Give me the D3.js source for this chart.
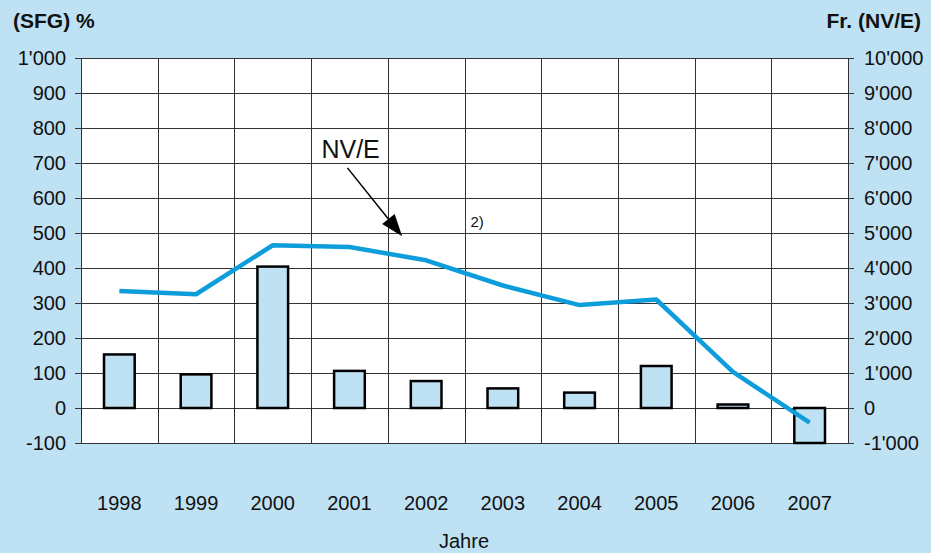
<!DOCTYPE html>
<html>
<head>
<meta charset="utf-8">
<script src="https://cdn.jsdelivr.net/npm/d3@7"></script>
<style>
  body { margin: 0; background: #bfe1f4; }
  svg { display: block; font-family: "Liberation Sans", Arial, sans-serif; }
</style>
</head>
<body>
<svg id="chart" width="931" height="553"></svg>
<script>
// values
var years = ["1998", "1999", "2000", "2001", "2002", "2003", "2004", "2005", "2006", "2007"];
var sfg = [153, 96, 404, 106, 77, 56, 44, 120, 10, -100];           // bars, left axis (%)
var nve = [3340, 3250, 4650, 4600, 4220, 3500, 2940, 3100, 1030, -420]; // line, right axis (Fr.)
var leftTicks = [-100, 0, 100, 200, 300, 400, 500, 600, 700, 800, 900, 1000];
var rightTicks = [-1000, 0, 1000, 2000, 3000, 4000, 5000, 6000, 7000, 8000, 9000, 10000];

var svg = d3.select("#chart");
var pLeft = 81, pRight = 848, pTop = 58, pBottom = 443;

var x = d3.scaleBand().domain(years).range([pLeft, pRight]).paddingInner(0.6).paddingOuter(0.3);
var xb = d3.scaleBand().domain(years).range([pLeft, pRight]);
var y = d3.scaleLinear().domain([-100, 1000]).range([pBottom, pTop]);
var y2 = d3.scaleLinear().domain([-1000, 10000]).range([pBottom, pTop]);

function fmt(v) {
  return d3.format(",")(v).replace(/,/g, "'").replace("\u2212", "-");
}
function cx(yr) {
  return xb(yr) + xb.bandwidth() / 2;
}

// plot background
svg.append("rect")
  .attr("x", pLeft).attr("y", pTop)
  .attr("width", pRight - pLeft).attr("height", pBottom - pTop)
  .attr("fill", "#fff");

// horizontal grid
svg.append("g").selectAll("line").data(leftTicks).join("line")
  .attr("x1", pLeft - 6).attr("x2", pRight + 6)
  .attr("y1", function(d) { return Math.round(y(d)) + 0.5; })
  .attr("y2", function(d) { return Math.round(y(d)) + 0.5; })
  .attr("stroke", "#333").attr("stroke-width", 1);

// vertical grid at category boundaries
svg.append("g").selectAll("line").data(years.slice(1)).join("line")
  .attr("x1", function(d) { return Math.round(xb(d)) + 0.5; })
  .attr("x2", function(d) { return Math.round(xb(d)) + 0.5; })
  .attr("y1", pTop).attr("y2", pBottom)
  .attr("stroke", "#333").attr("stroke-width", 1);

// axis lines
svg.append("line").attr("x1", pLeft + 0.5).attr("x2", pLeft + 0.5).attr("y1", pTop).attr("y2", pBottom)
  .attr("stroke", "#333");
svg.append("line").attr("x1", pRight + 0.5).attr("x2", pRight + 0.5).attr("y1", pTop).attr("y2", pBottom)
  .attr("stroke", "#333");

// small ticks hanging under the zero line
svg.append("g").selectAll("line").data(years).join("line")
  .attr("x1", function(d) { return Math.round(xb(d)) + 0.5; })
  .attr("x2", function(d) { return Math.round(xb(d)) + 0.5; })
  .attr("y1", y(0)).attr("y2", y(0) + 9)
  .attr("stroke", "#222");

// tick labels
svg.append("g").selectAll("text").data(leftTicks).join("text")
  .attr("x", 66).attr("y", function(d) { return y(d) + 7; })
  .attr("text-anchor", "end").attr("font-size", 20).attr("fill", "#111")
  .text(fmt);
svg.append("g").selectAll("text").data(rightTicks).join("text")
  .attr("x", 864).attr("y", function(d) { return y2(d) + 7; })
  .attr("font-size", 20).attr("fill", "#111")
  .text(fmt);

svg.append("g").selectAll("text").data(years).join("text")
  .attr("x", function(d) { return cx(d); })
  .attr("y", 510)
  .attr("text-anchor", "middle").attr("font-size", 20).attr("fill", "#111")
  .text(function(d) { return d; });

// bars
svg.append("g").selectAll("rect").data(sfg).join("rect")
  .attr("x", function(d, i) { return x(years[i]); })
  .attr("width", x.bandwidth())
  .attr("y", function(d) { return y(Math.max(0, d)); })
  .attr("height", function(d) { return Math.abs(y(d) - y(0)); })
  .attr("fill", "#bfe1f4").attr("stroke", "#000").attr("stroke-width", 2.5);

// NV/E line
var line = d3.line()
  .x(function(d, i) { return cx(years[i]); })
  .y(function(d) { return y2(d); });
svg.append("path").datum(nve)
  .attr("d", line)
  .attr("fill", "none").attr("stroke", "#0e9ddb").attr("stroke-width", 4.5)
  .attr("stroke-linejoin", "round");

// annotation arrow (positioned in data units of the left axis)
var ax1 = cx("2001") - 2, ay1 = y(686), ax2 = cx("2002") - 24, ay2 = y(491);
var ang = Math.atan2(ay2 - ay1, ax2 - ax1);
var hl = 22, hw = 8;
var bx = ax2 - hl * Math.cos(ang), by = ay2 - hl * Math.sin(ang);
svg.append("line").attr("x1", ax1).attr("y1", ay1).attr("x2", bx).attr("y2", by)
  .attr("stroke", "#000").attr("stroke-width", 1.5);
svg.append("path")
  .attr("d", "M" + ax2 + "," + ay2 +
    "L" + (bx + hw * Math.sin(ang)) + "," + (by - hw * Math.cos(ang)) +
    "L" + (bx - hw * Math.sin(ang)) + "," + (by + hw * Math.cos(ang)) + "Z")
  .attr("fill", "#000");

svg.append("text").attr("x", cx("2001") - 28).attr("y", y(714))
  .attr("font-size", 25).attr("fill", "#111").text("NV/E");
svg.append("text").attr("x", xb("2003") + 6).attr("y", y(517))
  .attr("font-size", 15).attr("fill", "#111").text("2)");

// axis titles
svg.append("text").attr("x", 13).attr("y", 28)
  .attr("font-size", 21).attr("font-weight", "bold").attr("fill", "#111").text("(SFG) %");
svg.append("text").attr("x", 921).attr("y", 28).attr("text-anchor", "end")
  .attr("font-size", 21).attr("font-weight", "bold").attr("fill", "#111").text("Fr. (NV/E)");
svg.append("text").attr("x", 464).attr("y", 548).attr("text-anchor", "middle")
  .attr("font-size", 20).attr("fill", "#111").text("Jahre");
</script>
</body>
</html>
